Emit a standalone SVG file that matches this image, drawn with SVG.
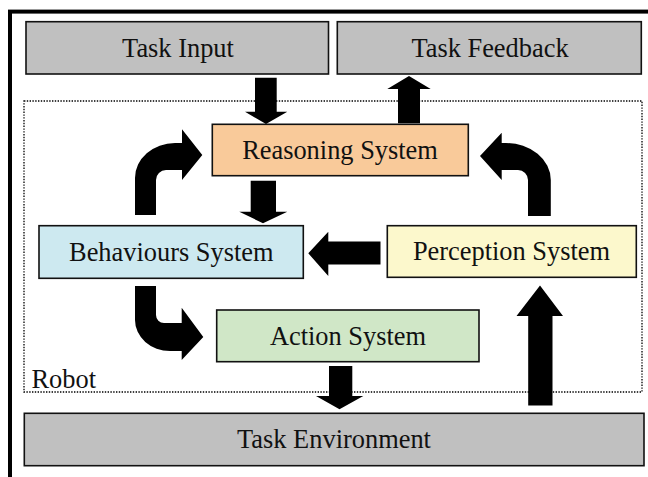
<svg xmlns="http://www.w3.org/2000/svg" width="648" height="477" viewBox="0 0 648 477">
<style>
.box{stroke:#111;stroke-width:1.6}
.t{font-family:"Liberation Serif","Times New Roman",serif;font-size:26.4px;fill:#111;text-anchor:middle}
.arr{fill:#000}
</style>
<rect x="0" y="0" width="648" height="477" fill="#fff"/>
<rect id="frame" x="10" y="11.6" width="700" height="600" fill="none" stroke="#000" stroke-width="4"/>
<g id="robot">
<rect x="24" y="101" width="618" height="291" fill="none" stroke="#000" stroke-width="1.3" stroke-dasharray="1.4,1.4"/>
<text class="t" x="31.5" y="388" style="text-anchor:start">Robot</text>
</g>
<g id="task-input">
<rect class="box" x="26" y="21.7" width="302.5" height="52.3" fill="#c0c0c0"/>
<text class="t" x="178" y="57">Task Input</text>
</g>
<g id="task-feedback">
<rect class="box" x="337.3" y="21.7" width="304" height="52.3" fill="#c0c0c0"/>
<text class="t" x="490" y="57">Task Feedback</text>
</g>
<g id="reasoning">
<rect class="box" x="212.3" y="124.3" width="256" height="51.4" fill="#f9ca9a"/>
<text class="t" x="340" y="159">Reasoning System</text>
</g>
<g id="behaviours">
<rect class="box" x="39" y="225.7" width="264.3" height="52.6" fill="#cde9f0"/>
<text class="t" x="171.3" y="261">Behaviours System</text>
</g>
<g id="perception">
<rect class="box" x="387.3" y="225.7" width="249" height="51.6" fill="#fcf8cc"/>
<text class="t" x="511.5" y="260">Perception System</text>
</g>
<g id="action">
<rect class="box" x="216.7" y="310" width="262.3" height="51.7" fill="#d0e7c7"/>
<text class="t" x="348" y="345">Action System</text>
</g>
<g id="task-environment">
<rect class="box" x="24.3" y="413.3" width="619.7" height="52.4" fill="#c0c0c0"/>
<text class="t" x="334" y="448">Task Environment</text>
</g>
<g id="connectors" class="arr">
<polygon points="255,77.7 276.7,77.7 276.7,111.7 287.3,111.7 266,124 245,111.7 255,111.7"/>
<polygon points="398,123.3 420,123.3 420,89 430.7,89 409,76 387.3,89 398,89"/>
<polygon points="250.7,180.7 276,180.7 276,211.7 287.3,211.7 263,223.3 239.3,211.7 250.7,211.7"/>
<polygon points="380.5,241.5 380.5,264.5 328.3,264.5 328.3,276 308.3,253.3 328.3,231.7 328.3,241.5"/>
<polygon points="528.2,405.5 552.5,405.5 552.5,316 563,316 540,285.5 516.5,316 528.2,316"/>
<polygon points="329,366 352.3,366 352.3,396 363.3,396 339.5,409.3 316,396 329,396"/>
<path d="M135,215 L135,178 A40,35 0 0 1 175,143 L182,143 L182,129.3 L202.3,155 L182,180 L182,170 L166,170 A10,10 0 0 0 156,180 L156,215 Z"/>
<path d="M550.8,216 L550.8,180 A45,37 0 0 0 505.8,143 L501.7,143 L501.7,132.7 L480,156 L501.7,180 L501.7,170 L518,170 A10,10 0 0 1 528,180 L528,216 Z"/>
<path d="M135,286 L156,286 L156,315 A8,8 0 0 0 164,323 L181.7,323 L181.7,307.7 L203.3,337 L181.7,360 L181.7,351 L170,351 A35,31 0 0 1 135,320 Z"/>
</g>
</svg>
